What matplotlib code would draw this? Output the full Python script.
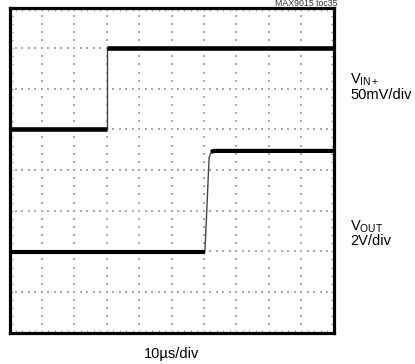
import numpy as np
import matplotlib.pyplot as plt

plt.rcParams['font.family'] = ['Liberation Sans', 'DejaVu Sans']
plt.rcParams['mathtext.fontset'] = 'custom'
plt.rcParams['mathtext.rm'] = 'Liberation Sans'
plt.rcParams['mathtext.it'] = 'Liberation Sans'

# scope screen: 10 horizontal x 8 vertical divisions (values in divisions)
vin_t = [0.0, 3.0, 3.0, 10.0]
vin_v = [5.02, 5.02, 7.0, 7.0]

vout_t = [0.0, 6.03, 6.10, 6.16, 6.22, 6.30, 10.0]
vout_v = [1.98, 1.98, 3.20, 4.30, 4.44, 4.47, 4.47]

n_xdiv, n_ydiv = 10, 8

fig = plt.figure(figsize=(4.15, 3.64), dpi=100)
ax = fig.add_axes([9.5 / 415, 31.5 / 364, 324 / 415, 325 / 364])
ax.set_xlim(0, n_xdiv)
ax.set_ylim(0, n_ydiv)

# dotted graticule: one dot every 1/5 division along each grid line
sub = np.arange(0, n_xdiv + 0.001, 0.2)
sub_y = np.arange(0, n_ydiv + 0.001, 0.2)
for i in range(1, n_xdiv):
    ax.scatter(np.full_like(sub_y, i), sub_y, marker='s', s=1.4, color='#a8a8a8', linewidths=0, zorder=1)
for j in range(1, n_ydiv):
    ax.scatter(sub, np.full_like(sub, j), marker='s', s=1.4, color='#a8a8a8', linewidths=0, zorder=1)

# flat parts of the traces are thick (noise band), edges thin
ax.plot(vin_t[:2], vin_v[:2], color='black', lw=3.3, solid_capstyle='butt', zorder=3)
ax.plot(vin_t[2:], vin_v[2:], color='black', lw=3.3, solid_capstyle='butt', zorder=3)
ax.plot(vin_t[1:3], vin_v[1:3], color='#444444', lw=1.0, zorder=2)

ax.plot(vout_t[:2], vout_v[:2], color='black', lw=3.0, solid_capstyle='butt', zorder=3)
ax.plot(vout_t[1:5], vout_v[1:5], color='#444444', lw=1.0, zorder=2)
ax.plot(vout_t[4:], vout_v[4:], color='black', lw=3.0, solid_capstyle='butt', zorder=3)

ax.set_xticks(sub)
ax.set_yticks(sub_y)
ax.tick_params(direction='in', length=2.2, width=0.8, color='#9a9a9a',
               top=True, right=True, labelbottom=False, labelleft=False)
for s in ax.spines.values():
    s.set_linewidth(2.3)
    s.set_color('black')

fig.text(337 / 415, 1 - 6 / 364, 'MAX9015 toc35', fontsize=6.3, ha='right', va='baseline', color='#333333')
fig.text(350 / 415, 1 - 84 / 364, r'$\mathrm{V_{IN+}}$', fontsize=10.5, ha='left', va='baseline')
fig.text(350 / 415, 1 - 99 / 364, '50mV/div', fontsize=10.5, ha='left', va='baseline')
fig.text(350 / 415, 1 - 231 / 364, r'$\mathrm{V_{OUT}}$', fontsize=10.5, ha='left', va='baseline')
fig.text(350 / 415, 1 - 245 / 364, '2V/div', fontsize=10.5, ha='left', va='baseline')
fig.text(172 / 415, 1 - 358 / 364, '10µs/div', fontsize=10.5, ha='center', va='baseline')

fig.savefig('out.png', dpi=100)
